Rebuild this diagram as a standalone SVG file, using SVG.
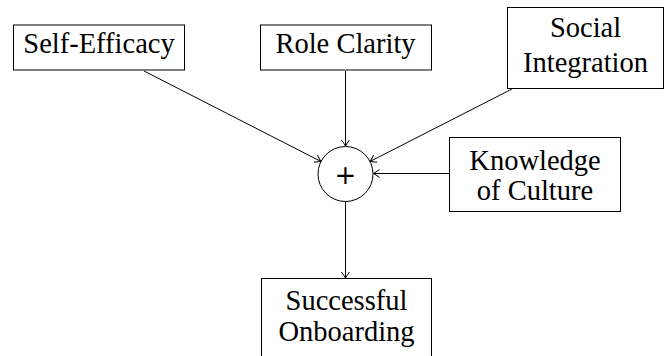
<svg xmlns="http://www.w3.org/2000/svg" width="665" height="356" viewBox="0 0 665 356">
<style>
.box{fill:#fff;stroke:#000;stroke-width:1}
.t{font-family:'Liberation Serif','Times New Roman',serif;font-size:28.5px;fill:#000;text-anchor:middle}
.e{stroke:#000;stroke-width:1;fill:none;marker-end:url(#ah)}
</style>
<defs>
<marker id="ah" markerUnits="userSpaceOnUse" markerWidth="12" markerHeight="12" viewBox="-8 -6 10 12" refX="0" refY="0" orient="auto" overflow="visible">
<path d="M-6,-4 Q-2,-1 0,0 Q-2,1 -6,4" fill="none" stroke="#000" stroke-width="1"/>
</marker>
</defs>
<rect width="665" height="356" fill="#fff"/>
<g id="connectors">
<line class="e" x1="144" y1="71" x2="321" y2="161.5"/>
<line class="e" x1="345.5" y1="71" x2="345.5" y2="146"/>
<line class="e" x1="512" y1="89" x2="370" y2="161.5"/>
<line class="e" x1="449" y1="173.5" x2="373.5" y2="173.5"/>
<line class="e" x1="345.5" y1="201.5" x2="345.5" y2="278"/>
</g>
<g id="self-efficacy">
<rect class="box" x="13.5" y="25" width="171" height="45"/>
<text class="t" x="99" y="53">Self-Efficacy</text>
</g>
<g id="role-clarity">
<rect class="box" x="260.5" y="25" width="171" height="45"/>
<text class="t" x="345.5" y="53">Role Clarity</text>
</g>
<g id="social-integration">
<rect class="box" x="507.5" y="7.5" width="156" height="81"/>
<text class="t" x="585.5" y="37">Social</text>
<text class="t" x="585.5" y="72">Integration</text>
</g>
<g id="knowledge-of-culture">
<rect class="box" x="449.5" y="137.5" width="171" height="74"/>
<text class="t" x="535" y="170">Knowledge</text>
<text class="t" x="535" y="200">of Culture</text>
</g>
<g id="sum">
<circle class="box" cx="345.5" cy="174" r="27.5"/>
<text x="345.5" y="183.5" style="font-family:'DejaVu Sans','Liberation Sans',sans-serif;font-size:26px;text-anchor:middle;fill:#000">+</text>
</g>
<g id="successful-onboarding">
<rect class="box" x="261.5" y="278.5" width="170" height="82"/>
<text class="t" x="346.5" y="310">Successful</text>
<text class="t" x="346.5" y="341">Onboarding</text>
</g>
</svg>
